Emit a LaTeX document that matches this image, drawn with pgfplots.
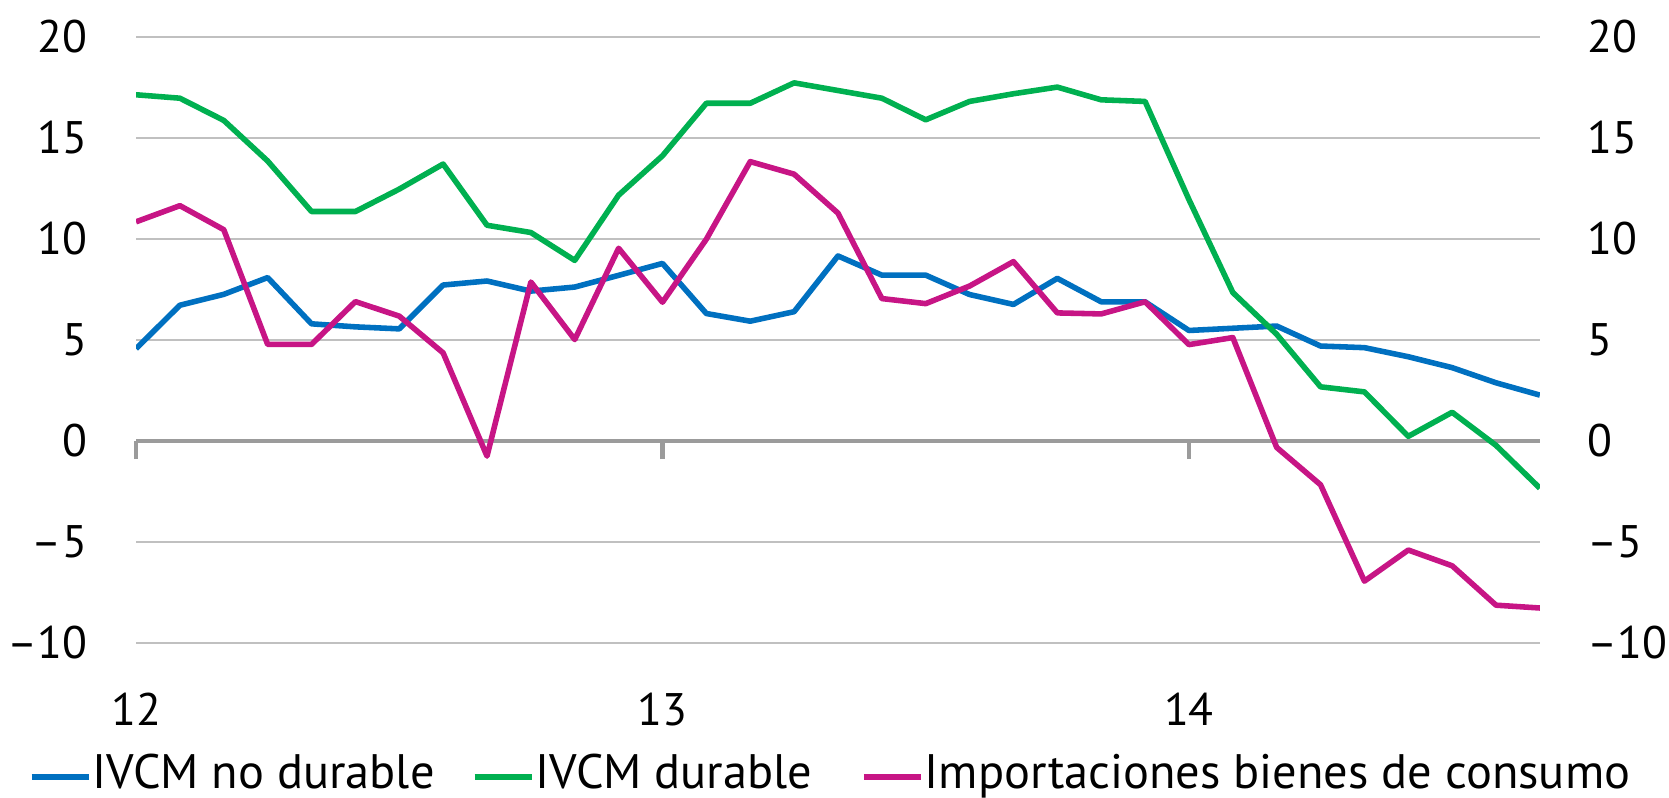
\documentclass[border=0pt]{standalone}
\usepackage{fontspec}
\setmainfont{PT Sans}
\usepackage{pgfplots}
\pgfplotsset{compat=1.18}
\definecolor{cblue}{HTML}{0070C0}
\definecolor{cgreen}{HTML}{00B050}
\definecolor{cpink}{HTML}{C71585}
\definecolor{zline}{HTML}{9B9B9B}
\definecolor{gridc}{HTML}{C0C0C0}
\pgfplotstableread{
i blue green pink
0 4.57 17.14 10.85
1 6.72 16.97 11.65
2 7.26 15.87 10.46
3 8.09 13.86 4.78
4 5.80 11.36 4.78
5 5.65 11.36 6.90
6 5.55 12.47 6.18
7 7.72 13.71 4.36
8 7.92 10.68 -0.75
9 7.42 10.32 7.87
10 7.62 8.94 5.02
11 8.20 12.17 9.54
12 8.79 14.12 6.87
13 6.31 16.72 9.99
14 5.93 16.72 13.83
15 6.40 17.73 13.21
16 9.16 17.35 11.28
17 8.21 16.97 7.05
18 8.21 15.90 6.80
19 7.25 16.81 7.67
20 6.76 17.19 8.88
21 8.05 17.52 6.34
22 6.89 16.89 6.29
23 6.89 16.81 6.89
24 5.47 11.95 4.77
25 5.58 7.35 5.12
26 5.69 5.28 -0.32
27 4.70 2.68 -2.17
28 4.62 2.43 -6.94
29 4.17 0.23 -5.40
30 3.63 1.42 -6.18
31 2.88 -0.22 -8.13
32 2.27 -2.34 -8.27
}\datatable
\begin{document}
\begin{tikzpicture}[font=\fontsize{16.4}{20}\selectfont]
\path[use as bounding box] (-48.9pt,-55.7pt) rectangle (551.0pt,231.1pt);
% zero line, year ticks, right-hand labels
\begin{axis}[at={(0,0)}, anchor=south west, scale only axis,
  width=504.6pt, height=217.8pt,
  xmin=0, xmax=32, ymin=-10, ymax=20,
  axis x line=middle, axis y line=right,
  hide obscured x ticks=false, hide obscured y ticks=false,
  x axis line style={-, draw=zline, line width=1.5pt},
  y axis line style={draw=none},
  xtick={0,12,24}, xticklabels={},
  xtick style={draw=zline, line width=1.6pt},
  tick align=outside, major tick length=6.5pt,
  ytick={-10,-5,0,5,10,15,20},
  yticklabels={--10,--5,0,5,10,15,20},
  ytick style={draw=none},
  yticklabel style={anchor=west, inner sep=0pt, xshift=10.5pt},
]
\end{axis}
% main plot
\begin{axis}[at={(0,0)}, anchor=south west, scale only axis,
  width=504.6pt, height=217.8pt,
  xmin=0, xmax=32, ymin=-10, ymax=20,
  axis lines=left, axis line style={draw=none}, tick style={draw=none},
  xtick={0,12,24}, xticklabels={12,13,14},
  ytick={-10,-5,5,10,15,20},
  yticklabels={--10,--5,5,10,15,20},
  extra y ticks={0}, extra y tick labels={0},
  extra y tick style={grid=none},
  ymajorgrids, major grid style={draw=gridc, line width=0.8pt},
  xticklabel style={anchor=north, inner sep=0pt, yshift=-15.8pt},
  yticklabel style={anchor=east, inner sep=0pt, xshift=-15.3pt},
  every axis plot/.append style={line width=2pt, line join=round},
  legend columns=-1,
  legend style={at={(axis description cs:-0.0763,-0.216)}, anchor=west,
    draw=none, fill=none, inner sep=0pt, outer sep=0pt,
    font=\fontsize{17.4}{21}\selectfont,
    nodes={inner sep=0.4pt},
    /tikz/column 2/.style={column sep=13.0pt},
    /tikz/column 4/.style={column sep=17.1pt}},
  legend image code/.code={\draw[#1,line width=2pt] (0pt,-1.2pt) -- (20.5pt,-1.2pt);},
  legend cell align=left,
]
\addplot[cblue] table[x=i, y=blue] {\datatable};
\addlegendentry{IVCM no durable}
\addplot[cgreen] table[x=i, y=green] {\datatable};
\addlegendentry{IVCM durable}
\addplot[cpink] table[x=i, y=pink] {\datatable};
\addlegendentry{Importaciones bienes de consumo}
\end{axis}
\end{tikzpicture}
\end{document}
